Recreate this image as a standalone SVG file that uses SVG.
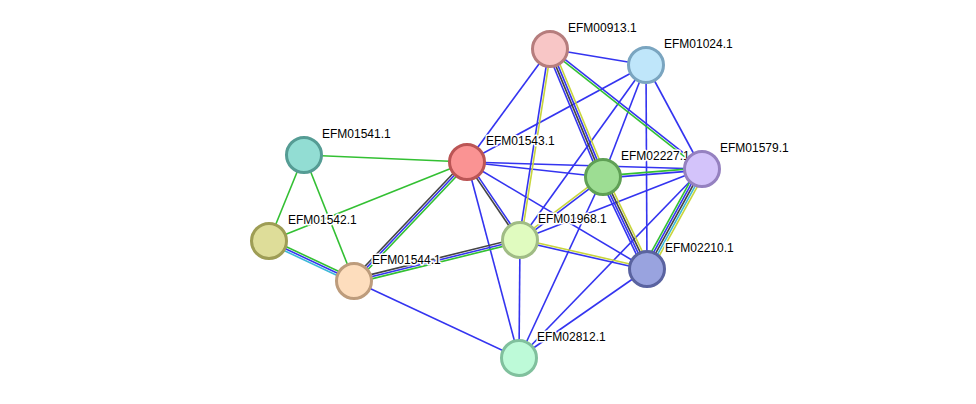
<svg xmlns="http://www.w3.org/2000/svg" width="976" height="404" viewBox="0 0 976 404">
<style>
.e line{stroke-width:1.6;fill:none}
.b{stroke:#3434f0}
.g{stroke:#33c033}
.y{stroke:#c8d53c}
.k{stroke:#444444}
.c{stroke:#3cb8d8}
.n circle{stroke-width:3}
.n text{font-family:"Liberation Sans",Arial,sans-serif;font-size:12px;fill:#000;stroke:#fff;stroke-width:3;stroke-linejoin:round;paint-order:stroke fill}
</style>
<rect width="976" height="404" fill="#fff"/>
<g id="connectors" class="e">
<!-- green singles -->
<line class="g" x1="304" y1="155" x2="467" y2="162"/>
<line class="g" x1="304" y1="155" x2="269" y2="241"/>
<line class="g" x1="304" y1="155" x2="354" y2="281"/>
<line class="g" x1="269" y1="241" x2="467" y2="162"/>
<!-- blue singles -->
<line class="b" x1="550" y1="49" x2="646" y2="65"/>
<line class="b" x1="550" y1="49" x2="467" y2="162"/>
<line class="b" x1="646" y1="65" x2="467" y2="162"/>
<line class="b" x1="646" y1="65" x2="603" y2="177"/>
<line class="b" x1="646" y1="65" x2="520" y2="240"/>
<line class="b" x1="646" y1="65" x2="647" y2="269"/>
<line class="b" x1="646" y1="65" x2="702" y2="169"/>
<line class="b" x1="467" y1="162" x2="603" y2="177"/>
<line class="b" x1="467" y1="162" x2="702" y2="169"/>
<line class="b" x1="467" y1="162" x2="647" y2="269"/>
<line class="b" x1="467" y1="162" x2="519" y2="358"/>
<line class="b" x1="520" y1="240" x2="702" y2="169"/>
<line class="b" x1="520" y1="240" x2="519" y2="358"/>
<line class="b" x1="603" y1="177" x2="519" y2="358"/>
<line class="b" x1="702" y1="169" x2="519" y2="358"/>
<line class="b" x1="647" y1="269" x2="519" y2="358"/>
<line class="b" x1="354" y1="281" x2="519" y2="358"/>
<!-- 01543-01544 -->
<line class="k" x1="465.4" y1="160.5" x2="352.4" y2="279.5"/>
<line class="b" x1="467" y1="162" x2="354" y2="281"/>
<line class="g" x1="468.6" y1="163.5" x2="355.6" y2="282.5"/>
<!-- 01544-01968 -->
<line class="k" x1="353.5" y1="278.9" x2="519.5" y2="237.9"/>
<line class="b" x1="354" y1="281" x2="520" y2="240"/>
<line class="g" x1="354.5" y1="283.1" x2="520.5" y2="242.1"/>
<!-- 01543-01968 -->
<line class="k" x1="466.1" y1="162.6" x2="519.1" y2="240.6"/>
<line class="b" x1="467.9" y1="161.4" x2="520.9" y2="239.4"/>
<!-- 01542-01544 -->
<line class="g" x1="269.9" y1="239" x2="354.9" y2="279"/>
<line class="b" x1="269" y1="241" x2="354" y2="281"/>
<line class="c" x1="268.1" y1="243" x2="353.1" y2="283"/>
<!-- 00913-02227 -->
<line class="b" x1="546.95" y1="50.26" x2="599.95" y2="178.26"/>
<line class="k" x1="548.98" y1="49.42" x2="601.98" y2="177.42"/>
<line class="b" x1="551.02" y1="48.58" x2="604.02" y2="176.58"/>
<line class="y" x1="553.05" y1="47.74" x2="606.05" y2="175.74"/>
<!-- 02227-02210 -->
<line class="b" x1="600.02" y1="178.42" x2="644.02" y2="270.42"/>
<line class="b" x1="602.01" y1="177.47" x2="646.01" y2="269.47"/>
<line class="k" x1="603.99" y1="176.53" x2="647.99" y2="268.53"/>
<line class="y" x1="605.98" y1="175.58" x2="649.98" y2="267.58"/>
<!-- 01579-02210 -->
<line class="g" x1="698.15" y1="166.88" x2="643.15" y2="266.88"/>
<line class="b" x1="700.07" y1="167.94" x2="645.07" y2="267.94"/>
<line class="k" x1="702" y1="169" x2="647" y2="269"/>
<line class="c" x1="703.93" y1="170.06" x2="648.93" y2="270.06"/>
<line class="y" x1="705.85" y1="171.12" x2="650.85" y2="271.12"/>
<!-- 00913-01579 -->
<line class="b" x1="550.68" y1="48.14" x2="702.68" y2="168.14"/>
<line class="g" x1="549.32" y1="49.86" x2="701.32" y2="169.86"/>
<!-- 02227-01579 -->
<line class="g" x1="602.91" y1="175.9" x2="701.91" y2="167.9"/>
<line class="b" x1="603.09" y1="178.1" x2="702.09" y2="170.1"/>
<!-- 00913-01968 -->
<line class="b" x1="548.91" y1="48.83" x2="518.91" y2="239.83"/>
<line class="y" x1="551.09" y1="49.17" x2="521.09" y2="240.17"/>
<!-- 01968-02227 -->
<line class="y" x1="519.33" y1="239.12" x2="602.33" y2="176.12"/>
<line class="b" x1="520.67" y1="240.88" x2="603.67" y2="177.88"/>
<!-- 01968-02210 -->
<line class="y" x1="520.25" y1="238.93" x2="647.25" y2="267.93"/>
<line class="b" x1="519.75" y1="241.07" x2="646.75" y2="270.07"/>
</g>
<g id="EFM00913.1" class="n"><circle cx="550" cy="49" r="17.5" fill="#f8c6c6" stroke="#b67d7d"/><text x="568" y="32">EFM00913.1</text></g>
<g id="EFM01024.1" class="n"><circle cx="646" cy="65" r="17.5" fill="#bfe6fa" stroke="#7aa5c0"/><text x="664" y="48">EFM01024.1</text></g>
<g id="EFM01541.1" class="n"><circle cx="304" cy="155" r="17.5" fill="#92ddd3" stroke="#559c94"/><text x="322" y="138">EFM01541.1</text></g>
<g id="EFM01543.1" class="n"><circle cx="467" cy="162" r="17.5" fill="#fa9393" stroke="#bb5555"/><text x="486" y="145">EFM01543.1</text></g>
<g id="EFM02227.1" class="n"><circle cx="603" cy="177" r="17.5" fill="#9ddd93" stroke="#5fa055"/><text x="621" y="160">EFM02227.1</text></g>
<g id="EFM01579.1" class="n"><circle cx="702" cy="169" r="17.5" fill="#d3c3fa" stroke="#9581c0"/><text x="720" y="152">EFM01579.1</text></g>
<g id="EFM01542.1" class="n"><circle cx="269" cy="241" r="17.5" fill="#dedd99" stroke="#9e9d55"/><text x="288" y="224">EFM01542.1</text></g>
<g id="EFM01968.1" class="n"><circle cx="520" cy="240" r="17.5" fill="#e0fbbf" stroke="#a0bc85"/><text x="538" y="223">EFM01968.1</text></g>
<g id="EFM02210.1" class="n"><circle cx="647" cy="269" r="17.5" fill="#99a3df" stroke="#5a63a0"/><text x="665" y="252">EFM02210.1</text></g>
<g id="EFM01544.1" class="n"><circle cx="354" cy="281" r="17.5" fill="#fdddbd" stroke="#bd9c7c"/><text x="372" y="264">EFM01544.1</text></g>
<g id="EFM02812.1" class="n"><circle cx="519" cy="358" r="17.5" fill="#bdfad8" stroke="#80c09d"/><text x="537" y="341">EFM02812.1</text></g>
</svg>
